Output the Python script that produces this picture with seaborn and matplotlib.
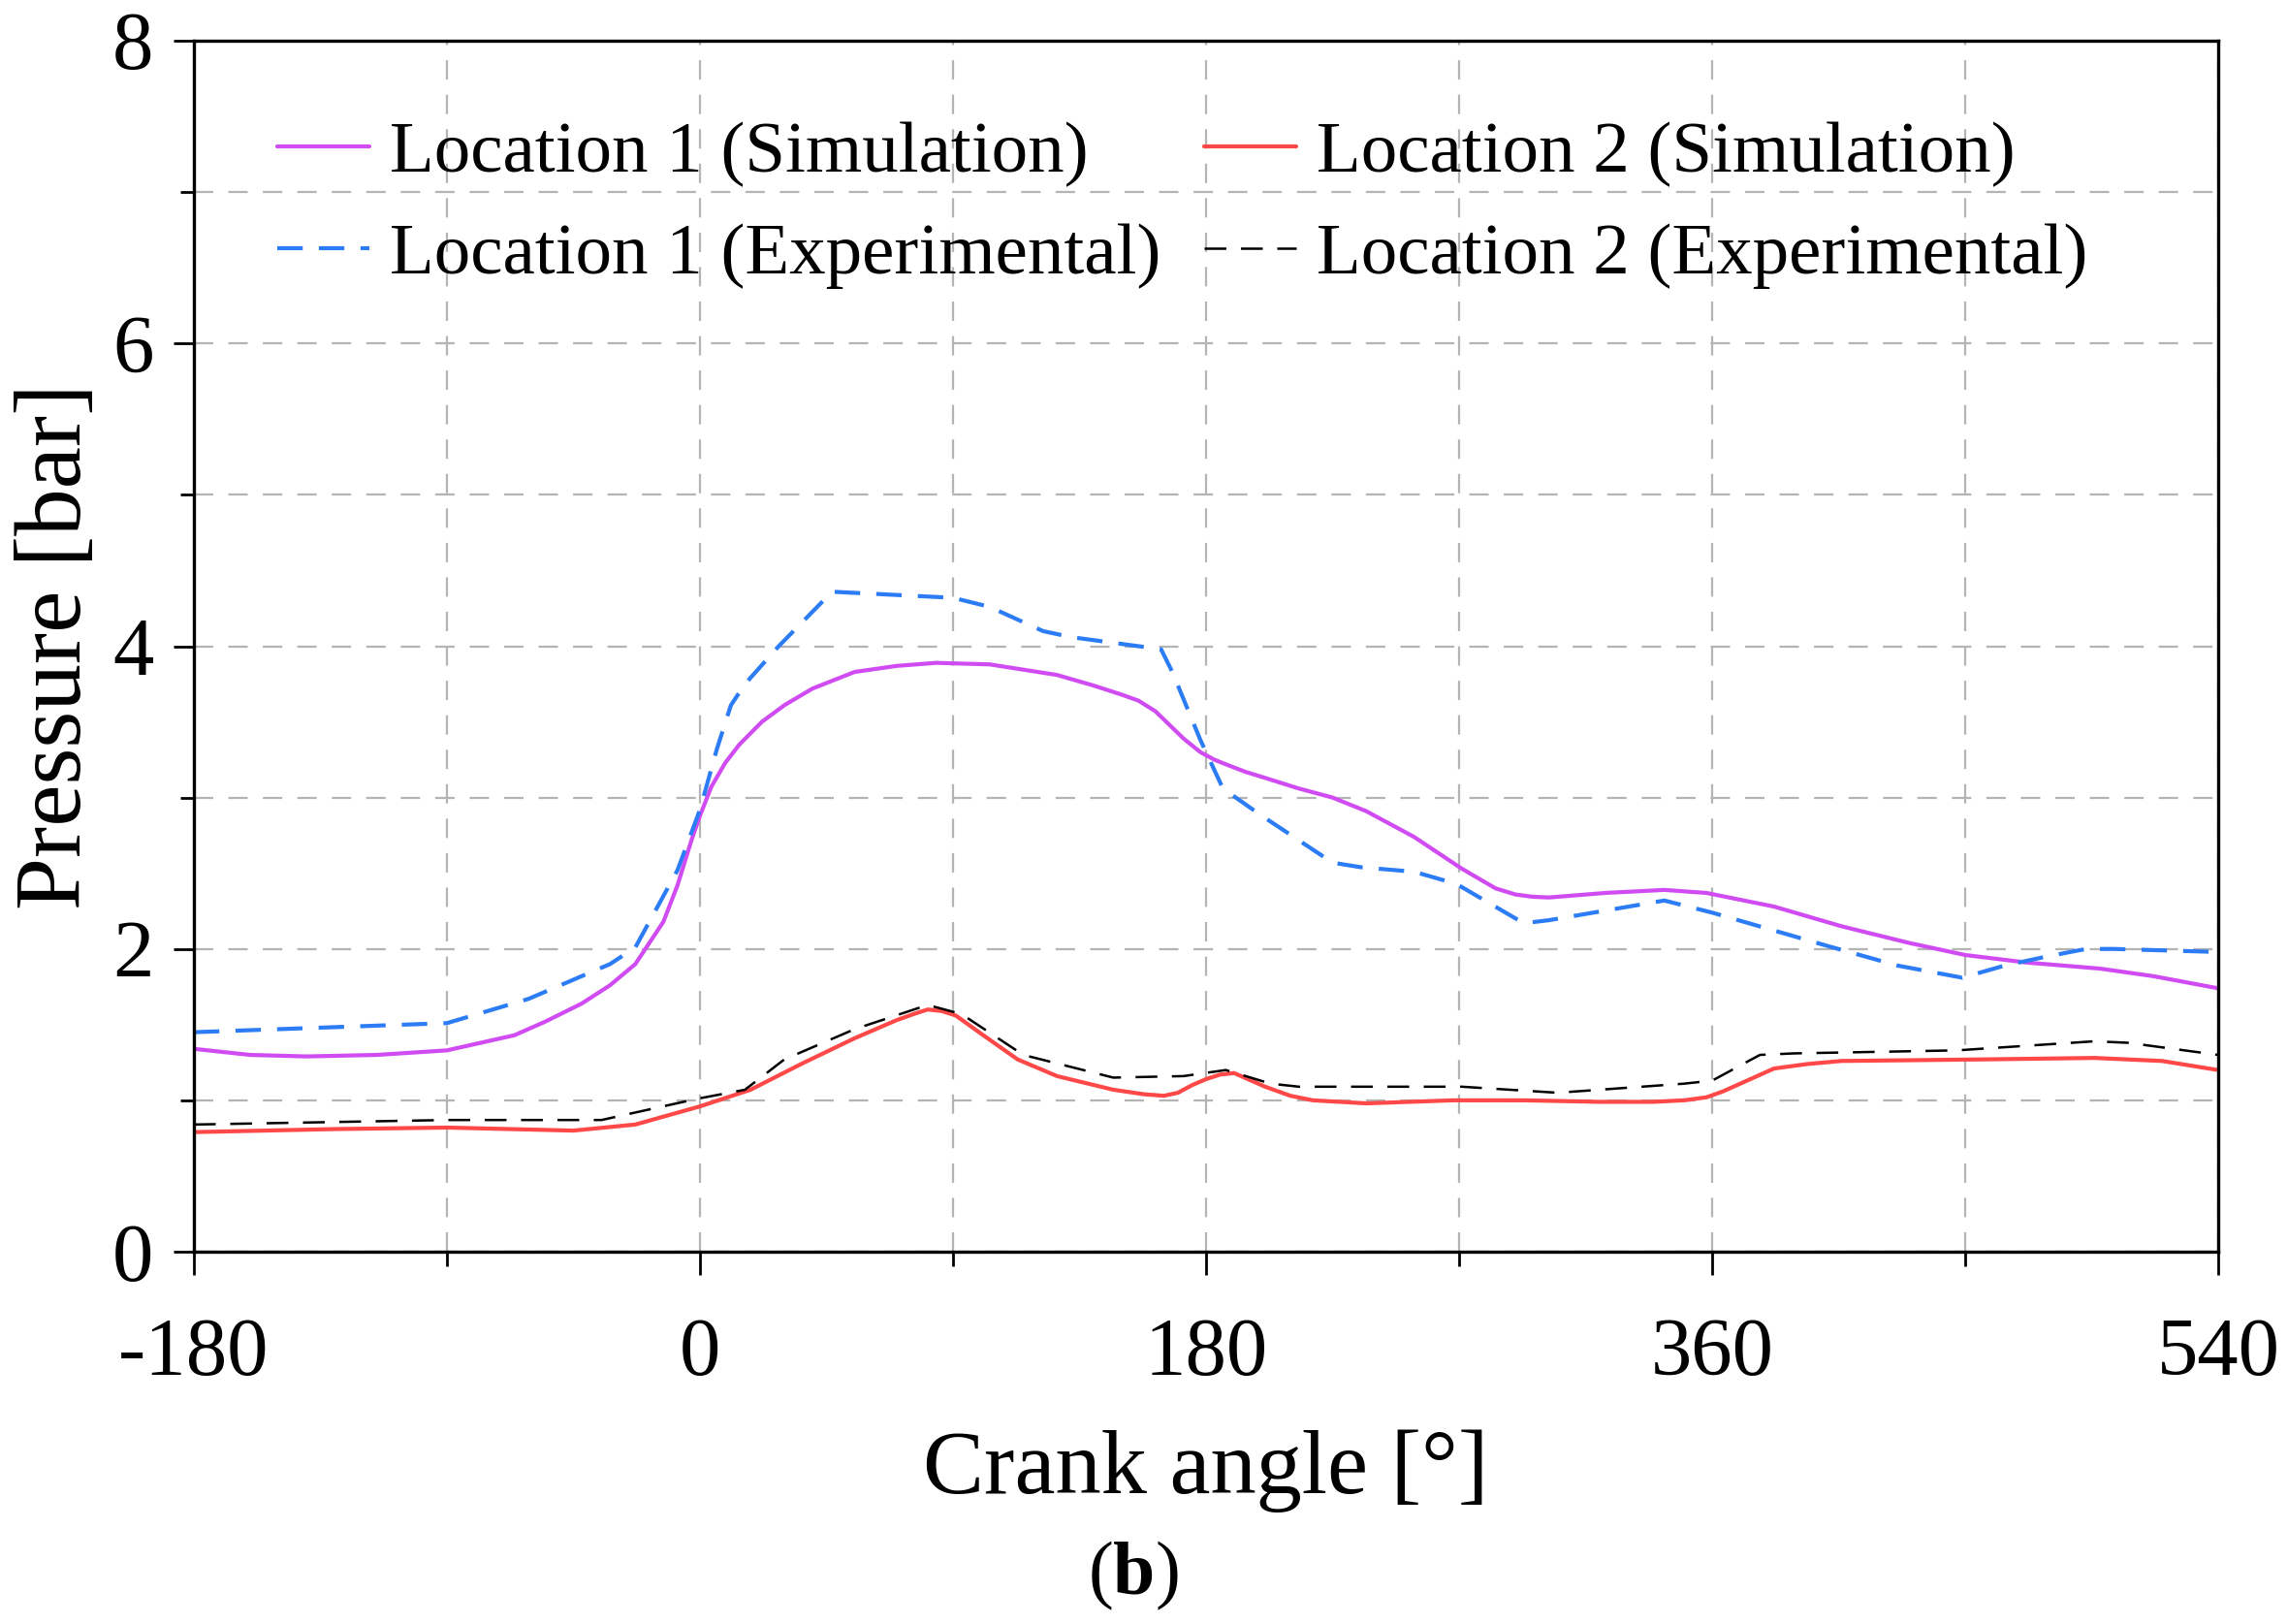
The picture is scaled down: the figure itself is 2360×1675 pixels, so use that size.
import matplotlib
matplotlib.use("Agg")
import matplotlib.pyplot as plt
from matplotlib.ticker import MultipleLocator
import seaborn as sns

# values (crank angle in deg, pressure in bar)
loc1_sim_x = [-180, -160, -140, -115, -90, -66, -55, -42, -32, -23, -13, -8, -3, 0, 4, 9, 14, 22,
              30, 40, 55, 70, 84, 103, 127, 140, 150, 156, 162, 167, 172, 178, 183, 187, 194,
              201, 213, 225, 237, 254, 271, 283, 290, 296, 302, 322, 343, 358, 382, 406, 430,
              450, 472, 498, 517, 540]
loc1_sim_y = [1.34, 1.30, 1.29, 1.30, 1.33, 1.43, 1.52, 1.64, 1.76, 1.90, 2.18, 2.42, 2.72, 2.88,
              3.07, 3.23, 3.35, 3.50, 3.61, 3.72, 3.83, 3.87, 3.89, 3.88, 3.81, 3.74, 3.68, 3.64,
              3.57, 3.48, 3.39, 3.30, 3.25, 3.22, 3.17, 3.13, 3.06, 3.00, 2.91, 2.74, 2.53, 2.40,
              2.36, 2.345, 2.34, 2.37, 2.39, 2.37, 2.28, 2.15, 2.04, 1.96, 1.91, 1.87, 1.82, 1.74]

loc1_exp_x = [-180, -90, -61, -32, -23, -8, 0, 6, 11, 16, 28, 47, 79, 90, 103, 122, 132, 164,
              168, 178, 186, 199, 225, 235, 254, 269, 293, 302, 343, 360, 401, 426, 449, 464,
              479, 493, 503, 540]
loc1_exp_y = [1.45, 1.51, 1.67, 1.90, 2.01, 2.52, 2.92, 3.32, 3.61, 3.75, 4.00, 4.36, 4.33, 4.32,
              4.26, 4.10, 4.06, 3.98, 3.83, 3.38, 3.06, 2.89, 2.57, 2.54, 2.51, 2.43, 2.17, 2.19,
              2.32, 2.24, 2.02, 1.89, 1.81, 1.89, 1.95, 2.00, 2.00, 1.98]

loc2_sim_x = [-180, -130, -90, -45, -23, 0, 18, 36, 55, 70, 76, 81, 86, 91, 100, 113, 127, 147,
              158, 165, 170, 175, 180, 185, 190, 201, 210, 218, 237, 268, 293, 320, 339, 350,
              358, 364, 370, 382, 394, 406, 455, 496, 520, 540]
loc2_sim_y = [0.79, 0.81, 0.82, 0.80, 0.84, 0.96, 1.07, 1.24, 1.41, 1.53, 1.57, 1.60, 1.59, 1.56,
              1.44, 1.27, 1.16, 1.07, 1.04, 1.03, 1.05, 1.10, 1.14, 1.17, 1.18, 1.09, 1.03, 1.00,
              0.98, 1.00, 1.00, 0.99, 0.99, 1.00, 1.02, 1.06, 1.11, 1.21, 1.24, 1.26, 1.27, 1.28,
              1.26, 1.20]

loc2_exp_x = [-180, -90, -35, -1, 16, 30, 55, 81, 93, 115, 147, 172, 187, 203, 213, 271, 305,
              350, 360, 377, 389, 447, 496, 508, 540]
loc2_exp_y = [0.84, 0.87, 0.87, 1.01, 1.07, 1.27, 1.47, 1.63, 1.57, 1.30, 1.15, 1.16, 1.20, 1.11,
              1.09, 1.09, 1.05, 1.11, 1.13, 1.30, 1.31, 1.33, 1.39, 1.38, 1.30]

labels = ["Location 1 (Simulation)", "Location 1 (Experimental)",
          "Location 2 (Simulation)", "Location 2 (Experimental)"]

sns.set_style("ticks")
plt.rcParams["font.family"] = ["Liberation Serif", "DejaVu Serif"]
plt.rcParams["mathtext.fontset"] = "custom"
plt.rcParams["mathtext.rm"] = "Liberation Serif"
plt.rcParams["mathtext.bf"] = "Liberation Serif:bold"
plt.rcParams["axes.unicode_minus"] = False
plt.rcParams["text.color"] = "black"
plt.rcParams["axes.labelcolor"] = "black"

fig = plt.figure(figsize=(23.6, 16.75), dpi=100)
ax = fig.add_axes([200 / 2360, 1 - 1291 / 1675, 2088 / 2360, 1249 / 1675])

sns.lineplot(x=loc1_sim_x, y=loc1_sim_y, ax=ax, color="#d04cf2", linewidth=3.0, label=labels[0])
sns.lineplot(x=loc1_exp_x, y=loc1_exp_y, ax=ax, color="#2b7cf5", linewidth=3.0,
             linestyle=(0, (6.3, 4.0)), label=labels[1])
sns.lineplot(x=loc2_sim_x, y=loc2_sim_y, ax=ax, color="#ff4848", linewidth=3.0, label=labels[2])
sns.lineplot(x=loc2_exp_x, y=loc2_exp_y, ax=ax, color="black", linewidth=1.8,
             linestyle=(0, (9, 6)), label=labels[3])

ax.set_xlim(-180, 540)
ax.set_ylim(0, 8)
ax.xaxis.set_major_locator(MultipleLocator(180))
ax.xaxis.set_minor_locator(MultipleLocator(90))
ax.yaxis.set_major_locator(MultipleLocator(2))
ax.yaxis.set_minor_locator(MultipleLocator(1))

ax.grid(which="both", color="#b4b4b4", linewidth=1.6, linestyle=(0, (9, 7)))
ax.set_axisbelow(True)

for side in ["left", "right", "top", "bottom"]:
    ax.spines[side].set_linewidth(2.4)
    ax.spines[side].set_color("black")

ax.tick_params(axis="x", which="major", direction="out", length=17, width=2, pad=32,
               labelsize=61, colors="black")
ax.tick_params(axis="x", which="minor", direction="out", length=11, width=2, colors="black")
ax.tick_params(axis="y", which="major", direction="out", length=15, width=2, pad=15,
               labelsize=61, colors="black")
ax.tick_params(axis="y", which="minor", direction="out", length=10, width=2, colors="black")

ax.set_xlabel("Crank angle [°]", fontsize=68)
ax.set_ylabel("Pressure [bar]", fontsize=70)
ax.xaxis.set_label_coords(0.5, -0.147)
ax.yaxis.set_label_coords(-0.046, 0.5)

ax.legend(loc="upper left", bbox_to_anchor=(0.041, 0.934), ncol=2, frameon=False,
          fontsize=54, handlelength=1.27, handletextpad=0.28, columnspacing=0.6,
          labelspacing=0.49, borderaxespad=0, borderpad=0)

fig.text(1169 / 2360, 1 - 1625 / 1675, "(" + r"$\mathbf{b}$" + ")", fontsize=56,
         ha="center", va="center")

fig.savefig("out.png", dpi=100)
